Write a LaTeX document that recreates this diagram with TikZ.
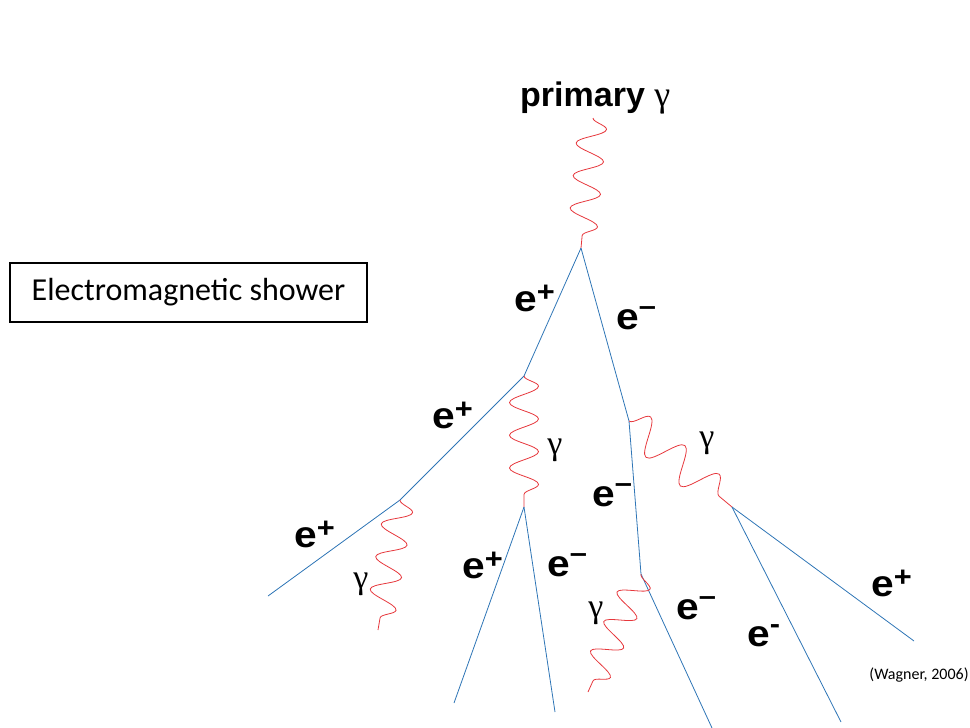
\documentclass[tikz,border=0pt]{standalone}
\usepackage{fontspec}
\setmainfont{Liberation Sans}
\newfontfamily\labfont{Liberation Sans}
\newfontfamily\elabfont{Liberation Sans}[FakeStretch=1.1]
\newfontfamily\grkfont{Liberation Serif}
\newfontfamily\calfont{Carlito}
\usetikzlibrary{decorations.pathmorphing}
\definecolor{eblue}{RGB}{46,117,182}
\definecolor{gred}{RGB}{230,55,60}
\newcommand\eplus{e\raisebox{9.5pt}{\fontsize{28}{28}\selectfont +}}
\newcommand\eminus{e\raisebox{13.5pt}{\fontsize{28}{28}\selectfont \char"2013}}
\newcommand\ehyph{e\raisebox{12.5pt}{\fontsize{28}{28}\selectfont -}}
\tikzset{
  lepton/.style={draw=eblue, line width=0.8pt},
  photon/.style={draw=gred, line width=0.8pt, decorate,
    decoration={snake, amplitude=14.5pt, segment length=#1}},
  elab/.style={inner sep=0pt, anchor=base west, font=\elabfont\bfseries\fontsize{37}{37}\selectfont},
  glab/.style={inner sep=0pt, font=\grkfont\fontsize{34}{34}\selectfont},
}
\begin{document}
\begin{tikzpicture}[x=1pt,y=-1pt]
\useasboundingbox (0,0) rectangle (970,728);
% vertices
\coordinate (p0) at (593,118);
\coordinate (v1) at (581,248);
\coordinate (v2) at (524,376);
\coordinate (v3) at (629,421);
\coordinate (v4) at (400,500);
\coordinate (v5) at (524,507);
\coordinate (v6) at (641,574);
\coordinate (v7) at (732,507);
\coordinate (a1) at (268,596);
\coordinate (g2e) at (378,630);
\coordinate (a2) at (454,703);
\coordinate (a3) at (555,712);
\coordinate (g4e) at (588,692);
\coordinate (a4) at (712,728);
\coordinate (a5) at (841,722);
\coordinate (a6) at (914,641);
% leptons
\draw[lepton] (v1) -- (v2) -- (v4) -- (a1);
\draw[lepton] (v1) -- (v3) -- (v6) -- (a4);
\draw[lepton] (v5) -- (a2);
\draw[lepton] (v5) -- (a3);
\draw[lepton] (v7) -- (a5);
\draw[lepton] (v7) -- (a6);
% photons
\draw[photon=32.6pt] (p0) -- (v1);
\draw[photon=32.7pt] (v2) -- (v5);
\draw[photon=33pt] (v4) -- (g2e);
\draw[photon=44.7pt, decoration={amplitude=17pt}] (v3) -- (v7);
\draw[photon=32.3pt] (v6) -- (g4e);
% labels
\node[inner sep=0pt, anchor=base west, font=\labfont\bfseries\fontsize{34}{34}\selectfont] (prim) at (520,106) {primary {\mdseries\grkfont\fontsize{36}{36}\selectfont γ}};
\node[elab] (l1) at (514,311) {\eplus};
\node[elab] (l2) at (616,329) {\eminus};
\node[elab] (l3) at (432,428) {\eplus};
\node[elab] (l4) at (294,547) {\eplus};
\node[elab] (l5) at (462,578) {\eplus};
\node[elab] (l6) at (547,576) {\eminus};
\node[elab] (l7) at (592,506) {\eminus};
\node[elab] (l8) at (676,619) {\eminus};
\node[elab] (l9) at (747,646) {\ehyph};
\node[elab] (l10) at (871,596) {\eplus};
\node[glab] (g1) at (555,450) {γ};
\node[glab] (g2) at (361,584) {γ};
\node[glab] (g3) at (707,443) {γ};
\node[glab] (g4) at (596,613) {γ};
\node[draw=black, line width=1.5pt, minimum width=357pt, minimum height=59pt, inner sep=0pt,
  font=\calfont\fontsize{32}{32}\selectfont] (box) at (188.5,292.5) {Electromagnetic shower};
\node[inner sep=0pt, font=\calfont\fontsize{16}{16}\selectfont] (ref) at (919,675) {(Wagner, 2006)};
\end{tikzpicture}
\end{document}
